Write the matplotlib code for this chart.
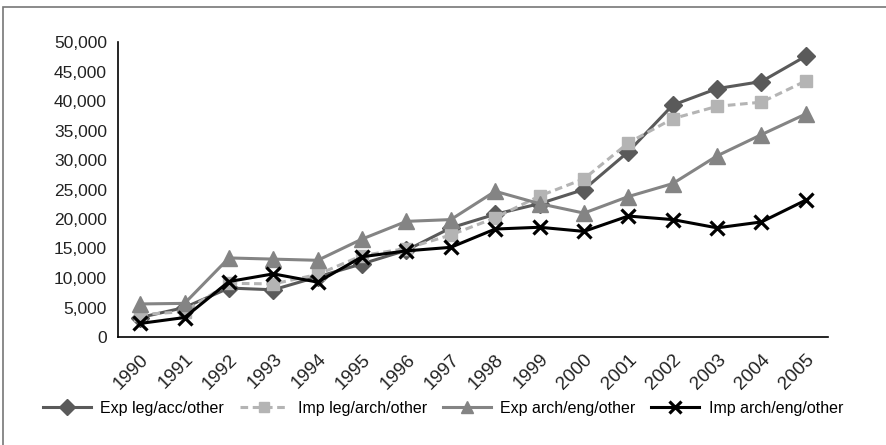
import numpy as np
import matplotlib
matplotlib.use("Agg")
import matplotlib.pyplot as plt
from matplotlib.ticker import FuncFormatter
from matplotlib.patches import Rectangle

plt.rcParams['font.family'] = ['Liberation Sans', 'DejaVu Sans']

years = [str(y) for y in range(1990, 2006)]
exp_leg = [3300, 5000, 8300, 8000, 10200, 12400, 14700, 18500, 20800, 22600,
           25000, 31400, 39300, 42100, 43300, 47600]
imp_leg = [3800, 4300, 9100, 9000, 10600, 13800, 15000, 17300, 20200, 23900,
           26800, 32900, 37000, 39100, 39800, 43400]
exp_arch = [5600, 5700, 13400, 13200, 13000, 16600, 19600, 19900, 24700, 22600,
            21000, 23800, 26000, 30700, 34300, 37800]
imp_arch = [2300, 3300, 9400, 10700, 9300, 13600, 14600, 15200, 18300, 18600,
            17900, 20500, 19900, 18500, 19500, 23200]

fig = plt.figure(figsize=(8.86, 4.45), dpi=100)
ax = fig.add_axes([118/886, 1 - 337/445, 710/886, 295/445])

x = np.arange(len(years))
ax.plot(x, exp_leg, color="#5a5a5a", lw=2.2, marker="D", ms=9, label="Exp leg/acc/other")
ax.plot(x, imp_leg, color="#b4b4b4", lw=2.2, ls=(0, (2.5, 1.5)), marker="s", ms=9,
        label="Imp leg/arch/other")
ax.plot(x, exp_arch, color="#848484", lw=2.2, marker="^", ms=11, label="Exp arch/eng/other")
ax.plot(x, imp_arch, color="black", lw=2.2, marker="x", ms=10.5, mew=2.3, label="Imp arch/eng/other")

ax.set_xlim(-0.5, len(years) - 0.5)
ax.set_ylim(0, 50000)
ax.set_yticks(np.arange(0, 50001, 5000))
ax.yaxis.set_major_formatter(FuncFormatter(lambda v, _: f"{int(v):,}"))
ax.set_xticks(x)
ax.set_xticklabels(years, rotation=45, ha="right", va="top", rotation_mode="anchor")
ax.tick_params(axis="y", length=0, labelsize=12.5, colors="#222222", pad=8)
ax.tick_params(axis="x", length=0, labelsize=13.5, colors="#222222", pad=10)
for s in ["top", "right"]:
    ax.spines[s].set_visible(False)
for s in ["left", "bottom"]:
    ax.spines[s].set_color("black")
    ax.spines[s].set_linewidth(1.2)

fig.legend(loc="center", bbox_to_anchor=(0.5, 1 - 408/445), ncol=4, frameon=False,
           fontsize=11.5, handlelength=3, columnspacing=1.0, handletextpad=0.6,
           markerscale=0.85)

fig.patches.append(Rectangle((3/886, -0.05), 1.2, 1 - 7/445 + 0.05, transform=fig.transFigure,
                             fill=False, edgecolor="#777777", lw=1.2))

fig.savefig("out.png", dpi=100)
